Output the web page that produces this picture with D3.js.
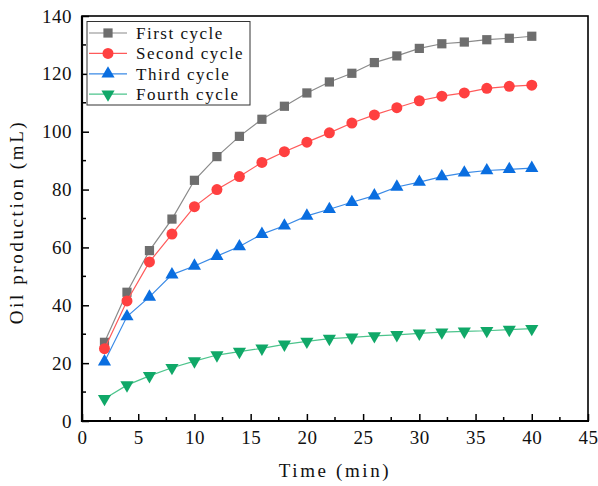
<!DOCTYPE html>
<html><head><meta charset="utf-8">
<script src="https://cdn.jsdelivr.net/npm/d3@7"></script>
<style>html,body{margin:0;padding:0;background:#fff;}</style>
</head><body>
<svg id="chart" width="598" height="486"></svg>
<script>
const time = [2,4,6,8,10,12,14,16,18,20,22,24,26,28,30,32,34,36,38,40];
const firstCycle  = [27.2,44.5,58.9,69.8,83.2,91.4,98.4,104.3,108.8,113.4,117.2,120.2,123.9,126.2,128.8,130.4,131.0,131.8,132.3,133.0];
const secondCycle = [25.0,41.5,55.0,64.6,74.1,80.0,84.5,89.4,93.1,96.4,99.6,103.0,105.8,108.3,110.7,112.3,113.4,115.0,115.7,116.1];
const thirdCycle  = [20.5,36.1,42.9,50.6,53.6,57.0,60.3,64.6,67.5,70.9,73.2,75.6,77.9,80.9,82.6,84.5,85.8,86.6,87.0,87.4];
const fourthCycle = [7.7,12.4,15.6,18.4,20.7,22.8,24.0,25.1,26.5,27.5,28.5,28.9,29.4,29.8,30.3,30.7,31.0,31.2,31.6,31.9];
const seriesNames = ["First cycle","Second cycle","Third cycle","Fourth cycle"];
const xTicks = [0,5,10,15,20,25,30,35,40,45];
const yTicks = [0,20,40,60,80,100,120,140];

const styles = [
  {line:"#8a8a8a", fill:"#6e6e6e", sym:d3.symbolSquare, size:85, rot:0},
  {line:"#ff5a5a", fill:"#ff4040", sym:d3.symbolCircle, size:95, rot:0},
  {line:"#3a8ae6", fill:"#0a6ee0", sym:d3.symbolTriangle, size:75, rot:0},
  {line:"#4cc48c", fill:"#10a868", sym:d3.symbolTriangle, size:75, rot:180}
];
const data = [firstCycle, secondCycle, thirdCycle, fourthCycle];

const svg = d3.select("#chart");
const L = 82, R = 588, T = 16, B = 421;
const x = d3.scaleLinear().domain([0,45]).range([L,R]);
const y = d3.scaleLinear().domain([0,140]).range([B,T]);
const font = "'Liberation Serif', 'DejaVu Serif', serif";

const xAxis = d3.axisBottom(x).tickValues(xTicks).tickSize(-7).tickPadding(10).tickFormat(d3.format("d"));
const yAxis = d3.axisLeft(y).tickValues(yTicks).tickSize(-7).tickPadding(10).tickFormat(d3.format("d"));

const gx = svg.append("g").attr("transform",`translate(0,${B})`).call(xAxis);
const gy = svg.append("g").attr("transform",`translate(${L},0)`).call(yAxis);
[gx,gy].forEach(g=>{
  g.select(".domain").remove();
  g.selectAll(".tick line").attr("stroke","#000").attr("stroke-width",1.5);
  g.selectAll(".tick text").attr("font-family",font).attr("font-size",19).attr("fill","#111").attr("letter-spacing",0.5);
});
const xMinor = d3.range(2.5,45,5);
const yMinor = d3.range(10,140,20);
svg.append("g").selectAll("line").data(xMinor).join("line")
  .attr("x1",d=>x(d)).attr("x2",d=>x(d)).attr("y1",B).attr("y2",B-4)
  .attr("stroke","#000").attr("stroke-width",1.5);
svg.append("g").selectAll("line").data(yMinor).join("line")
  .attr("y1",d=>y(d)).attr("y2",d=>y(d)).attr("x1",L).attr("x2",L+4)
  .attr("stroke","#000").attr("stroke-width",1.5);

svg.append("rect").attr("x",L).attr("y",T).attr("width",R-L).attr("height",B-T)
  .attr("fill","none").attr("stroke","#000").attr("stroke-width",1.6);
svg.append("line").attr("x1",L-1).attr("x2",R+1).attr("y1",B).attr("y2",B).attr("stroke","#000").attr("stroke-width",2.2);
svg.append("line").attr("x1",L).attr("x2",L).attr("y1",T).attr("y2",B+1).attr("stroke","#000").attr("stroke-width",2.2);

const line = d3.line().x((d,i)=>x(time[i])).y(d=>y(d));
data.forEach((vals,k)=>{
  const s = styles[k];
  svg.append("path").datum(vals).attr("d",line).attr("fill","none")
    .attr("stroke",s.line).attr("stroke-width",1.2);
  const sym = d3.symbol().type(s.sym).size(s.size);
  svg.append("g").selectAll("path").data(vals).join("path")
    .attr("d",sym)
    .attr("transform",(d,i)=>`translate(${x(time[i])},${y(d)}) rotate(${s.rot})`)
    .attr("fill",s.fill);
});

const lg = svg.append("g");
lg.append("rect").attr("x",87).attr("y",21.5).attr("width",163).attr("height",83.5)
  .attr("fill","#fff").attr("stroke","#333").attr("stroke-width",1);
seriesNames.forEach((name,k)=>{
  const s = styles[k];
  const cy = 33 + k*20.4;
  lg.append("line").attr("x1",89).attr("x2",127).attr("y1",cy).attr("y2",cy)
    .attr("stroke",s.line).attr("stroke-width",1.2);
  lg.append("path").attr("d",d3.symbol().type(s.sym).size(s.size)())
    .attr("transform",`translate(108,${cy}) rotate(${s.rot})`).attr("fill",s.fill);
  lg.append("text").attr("x",136).attr("y",cy+6).text(name)
    .attr("font-family",font).attr("font-size",17).attr("letter-spacing",1.5).attr("fill","#111");
});

svg.append("text").attr("x",(L+R)/2).attr("y",477).attr("text-anchor","middle")
  .attr("font-family",font).attr("font-size",19).attr("letter-spacing",2.6).attr("fill","#111").text("Time (min)");
svg.append("text").attr("transform",`translate(23,222) rotate(-90)`).attr("text-anchor","middle")
  .attr("font-family",font).attr("font-size",19).attr("letter-spacing",2.6).attr("fill","#111").text("Oil production (mL)");
</script>
</body></html>
